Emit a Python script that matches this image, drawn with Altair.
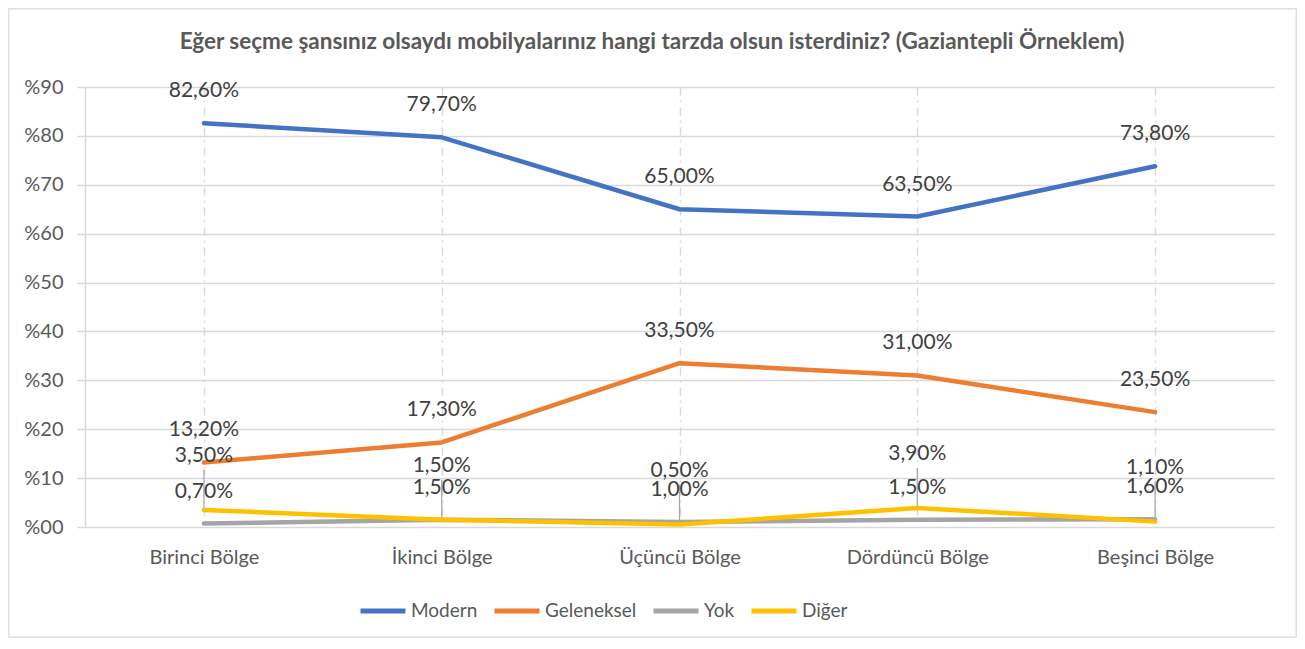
import altair as alt
import pandas as pd

categories = ["Birinci Bölge", "İkinci Bölge", "Üçüncü Bölge", "Dördüncü Bölge", "Beşinci Bölge"]
series_names = ["Modern", "Geleneksel", "Yok", "Diğer"]
modern = [82.6, 79.7, 65.0, 63.5, 73.8]
geleneksel = [13.2, 17.3, 33.5, 31.0, 23.5]
yok = [0.7, 1.5, 1.0, 1.5, 1.6]
diger = [3.5, 1.5, 0.5, 3.9, 1.1]
y_ticks = [0, 10, 20, 30, 40, 50, 60, 70, 80, 90]
colors = ["#4472C4", "#ED7D31", "#A5A5A5", "#FFC000"]

title_text = "Eğer seçme şansınız olsaydı mobilyalarınız hangi tarzda olsun isterdiniz? (Gaziantepli Örneklem)"

rows = []
for name, vals in zip(series_names, [modern, geleneksel, yok, diger]):
    for i, (c, v) in enumerate(zip(categories, vals)):
        rows.append({"Bölge": c, "Seri": name, "Değer": v, "order": i})
df = pd.DataFrame(rows)

FONT = "Lato"
W, H = 1189, 440
PAD = {"left": 77, "top": 79, "right": 23, "bottom": 111}

x_enc = alt.X("Bölge:N", sort=categories,
              scale=alt.Scale(type="point", padding=0.5),
              axis=alt.Axis(title=None, labelAngle=0, labelFontSize=20, labelFont=FONT,
                            labelColor="#595959", labelPadding=20, ticks=False, domain=False,
                            grid=True, gridColor="#D9D9D9", gridWidth=1.5,
                            gridDash=[8, 5, 2, 5]))
y_enc = alt.Y("Değer:Q", scale=alt.Scale(domain=[0, 90], nice=False),
              axis=alt.Axis(title=None, values=y_ticks, labelFontSize=20, labelFont=FONT,
                            labelColor="#595959", labelPadding=14,
                            labelExpr="'%' + (datum.value < 10 ? '0' : '') + datum.value",
                            domain=True, domainColor="#D9D9D9", domainWidth=1.5,
                            ticks=True, tickSize=8, tickColor="#D9D9D9", tickWidth=1.5,
                            grid=True, gridColor="#D9D9D9", gridWidth=1.5))

base = alt.Chart(df)

one = alt.Data(values=[{"t": title_text}])

border = alt.Chart(one).mark_rect(
    fill=None, stroke="#D9D9D9", strokeWidth=1.2
).encode(x=alt.value(-PAD["left"] + 0.8), x2=alt.value(W + PAD["right"] - 0.8),
         y=alt.value(-PAD["top"] + 0.8), y2=alt.value(H + PAD["bottom"] - 0.8))

title = alt.Chart(one).mark_text(
    font=FONT, fontSize=22.5, fontWeight="bold", color="#595959",
    align="center", baseline="middle"
).encode(x=alt.value(567), y=alt.value(-45), text="t:N")

leaders = base.transform_filter(alt.datum["Seri"] == "Diğer").mark_rule(
    color="#A6A6A6", strokeWidth=1.2, y2Offset=-40
).encode(x=x_enc, y=y_enc, y2=alt.Y2("Değer:Q"))

lines = base.mark_line(strokeWidth=4.5, strokeCap="round", strokeJoin="round").encode(
    x=x_enc, y=y_enc,
    color=alt.Color("Seri:N", sort=series_names,
                    scale=alt.Scale(domain=series_names, range=colors),
                    legend=alt.Legend(title=None, orient="none", direction="horizontal",
                                      legendX=273, legendY=499, symbolType="stroke",
                                      symbolSize=2025, symbolStrokeWidth=5,
                                      labelFontSize=19, labelFont=FONT, labelColor="#595959",
                                      labelOffset=3, columnPadding=6)),
    order=alt.Order("order:Q"),
)

label_expr = "replace(format(datum['Değer'], '.2f'), '.', ',') + '%'"

def labels(series, dy):
    return base.transform_filter(alt.datum["Seri"] == series).transform_calculate(
        lbl=label_expr
    ).mark_text(fontSize=21, font=FONT, color="#404040", dy=dy, baseline="middle").encode(
        x=x_enc, y=y_enc, text="lbl:N")

chart = alt.layer(
    border, title, leaders, lines,
    labels("Modern", -32), labels("Geleneksel", -32), labels("Yok", -32), labels("Diğer", -54),
).properties(
    width=W, height=H,
    padding=PAD,
    autosize=alt.AutoSizeParams(type="none"),
).configure_view(stroke=None)

chart.save("out.html", embed_options={"renderer": "svg", "actions": False})
